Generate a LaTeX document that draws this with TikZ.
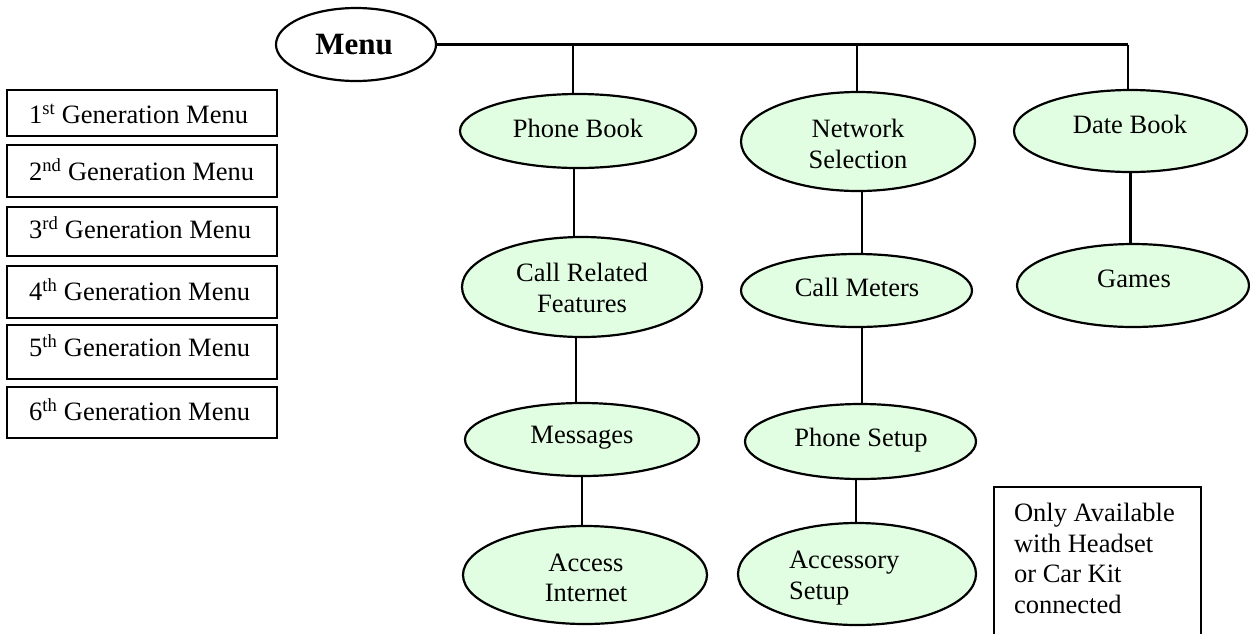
\documentclass[tikz,border=0pt]{standalone}
\usepackage{fontspec}
\setmainfont{Liberation Serif}
\usetikzlibrary{shapes.geometric}
\definecolor{leaf}{RGB}{226,254,226}
\begin{document}
\begin{tikzpicture}[x=1pt,y=-1pt,
  line width=2.2pt,
  bubble/.style={ellipse, draw, fill=leaf, inner sep=0pt},
  genbox/.style={rectangle, draw, inner sep=0pt, minimum width=270pt},
  lbl/.style={inner sep=0pt, font=\fontsize{26.5}{30.5}\selectfont, align=center},
  one/.style={text height=17.5pt, text depth=0pt},
]
\useasboundingbox (0,0) rectangle (1250,633);
\clip (0,0) rectangle (1250,633);

% root of the menu tree
\node[ellipse, draw, fill=white, inner sep=0pt, minimum width=160pt, minimum height=73pt] (menu) at (356,44.5) {};
\node[inner sep=0pt, font=\fontsize{31}{36}\selectfont\bfseries, text height=20.5pt, text depth=0pt] (menut) at (354,44) {Menu};

% legend of generations
\node[genbox, minimum height=46pt] (g1) at (142,113) {};
\node[genbox, minimum height=52pt] (g2) at (142,171) {};
\node[genbox, minimum height=49pt] (g3) at (142,231.5) {};
\node[genbox, minimum height=52pt] (g4) at (142,292) {};
\node[genbox, minimum height=54pt] (g5) at (142,352) {};
\node[genbox, minimum height=51pt] (g6) at (142,412.5) {};
\node[lbl, one, anchor=west] (t1) at (28,115) {1\textsuperscript{st} Generation Menu};
\node[lbl, one, anchor=west] (t2) at (28,172) {2\textsuperscript{nd} Generation Menu};
\node[lbl, one, anchor=west] (t3) at (28,230) {3\textsuperscript{rd} Generation Menu};
\node[lbl, one, anchor=west] (t4) at (28,292) {4\textsuperscript{th} Generation Menu};
\node[lbl, one, anchor=west] (t5) at (28,348) {5\textsuperscript{th} Generation Menu};
\node[lbl, one, anchor=west] (t6) at (28,412) {6\textsuperscript{th} Generation Menu};

% menu entries
\node[bubble, minimum width=236pt, minimum height=74pt] (pb) at (578,131) {};
\node[bubble, minimum width=234pt, minimum height=99pt] (ns) at (858,141.5) {};
\node[bubble, minimum width=233pt, minimum height=82pt] (db) at (1130.5,131) {};
\node[bubble, minimum width=240pt, minimum height=100pt] (crf) at (582,287) {};
\node[bubble, minimum width=231pt, minimum height=73pt] (cm) at (856.5,290.5) {};
\node[bubble, minimum width=232pt, minimum height=83pt] (gm) at (1133,285.5) {};
\node[bubble, minimum width=234pt, minimum height=73pt] (msg) at (582,439.5) {};
\node[bubble, minimum width=231pt, minimum height=75pt] (ps) at (860.5,441.5) {};
\node[bubble, minimum width=244pt, minimum height=98pt] (ai) at (585,575) {};
\node[bubble, minimum width=238pt, minimum height=102pt] (as) at (857,574) {};

\node[lbl, one] (pbt) at (578,129) {Phone Book};
\node[lbl] (nst) at (858,144) {Network\\Selection};
\node[lbl, one] (dbt) at (1130,125) {Date Book};
\node[lbl] (crft) at (582,288) {Call Related\\Features};
\node[lbl, one] (cmt) at (857,288) {Call Meters};
\node[lbl, one] (gmt) at (1134,279) {Games};
\node[lbl, one] (msgt) at (582,435) {Messages};
\node[lbl, one] (pst) at (861,438) {Phone Setup};
\node[lbl] (ait) at (586,578) {Access\\Internet};
\node[lbl, align=left, anchor=north west] (ast) at (788,550) {Accessory\\Setup};

% note about accessory availability
\node[draw, inner sep=0pt, anchor=north west, minimum width=207pt, minimum height=200pt] (note) at (993,486) {};
\node[lbl, align=left, anchor=north west] (notet) at (1013,502) {Only Available\\with Headset\\or Car Kit\\connected};

% branches from the root
\coordinate (j1) at (573,44.5);
\coordinate (j2) at (857,44.5);
\coordinate (j3) at (1128,44.5);
\draw (menu.east) -- (j3);
\draw (j1) -- (j1 |- pb.north);
\draw (j2) -- (j2 |- ns.north);
\draw (j3) -- (j3 |- db.north);

% links down each column
\coordinate (c1) at ([xshift=-4pt]pb.south);
\draw (c1) -- (c1 |- crf.north);
\coordinate (c2) at ([xshift=-6pt]crf.south);
\draw (c2) -- (c2 |- msg.north);
\coordinate (c3) at (msg.south);
\draw (c3) -- (c3 |- ai.north);
\coordinate (c4) at ([xshift=4pt]ns.south);
\draw (c4) -- (c4 |- cm.north);
\coordinate (c5) at ([xshift=5.5pt]cm.south);
\draw (c5) -- (c5 |- ps.north);
\coordinate (c6) at ([xshift=-4.5pt]ps.south);
\draw (c6) -- (c6 |- as.north);
\coordinate (c7) at (db.south);
\draw (c7) -- (c7 |- gm.north);
\end{tikzpicture}
\end{document}
